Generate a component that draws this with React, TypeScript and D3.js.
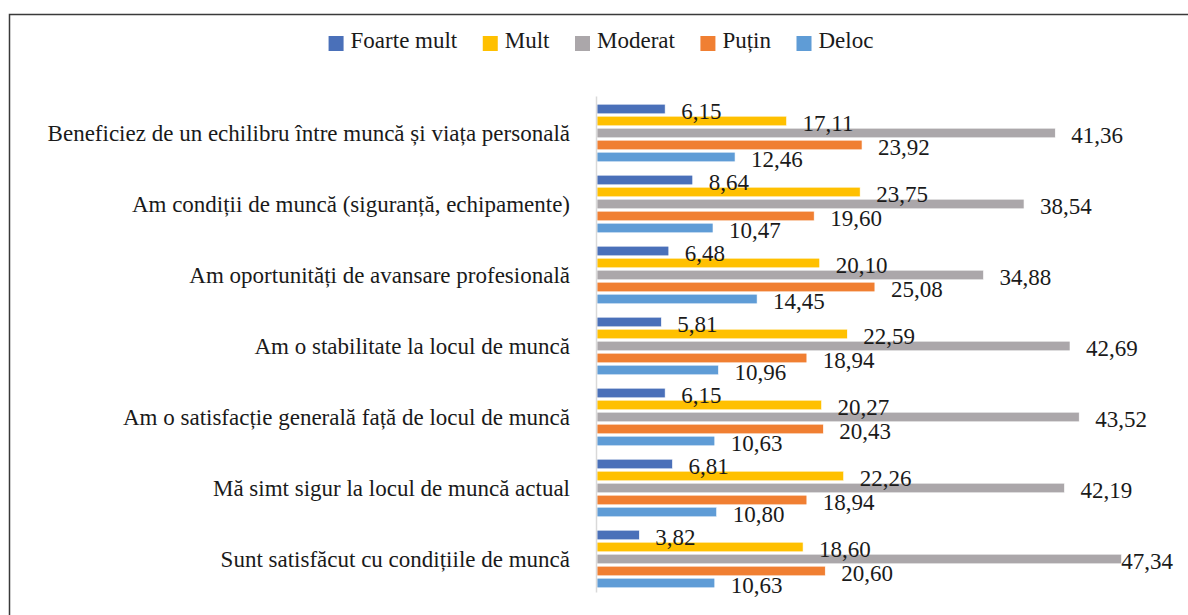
import React, { useEffect, useRef } from "react";
import * as d3 from "d3";

const categories = [
  "Beneficiez de un echilibru între muncă și viața personală",
  "Am condiții de muncă (siguranță, echipamente)",
  "Am oportunități de avansare profesională",
  "Am o stabilitate la locul de muncă",
  "Am o satisfacție generală față de locul de muncă",
  "Mă simt sigur la locul de muncă actual",
  "Sunt satisfăcut cu condițiile de muncă",
];
const seriesNames = ["Foarte mult", "Mult", "Moderat", "Puțin", "Deloc"];
const seriesColors = ["#4a70b9", "#ffc000", "#aba7aa", "#f07f32", "#5f9cd6"];

const foarteMult = [6.15, 8.64, 6.48, 5.81, 6.15, 6.81, 3.82];
const mult = [17.11, 23.75, 20.1, 22.59, 20.27, 22.26, 18.6];
const moderat = [41.36, 38.54, 34.88, 42.69, 43.52, 42.19, 47.34];
const putin = [23.92, 19.6, 25.08, 18.94, 20.43, 18.94, 20.6];
const deloc = [12.46, 10.47, 14.45, 10.96, 10.63, 10.8, 10.63];
const seriesValues = [foarteMult, mult, moderat, putin, deloc];

const FONT = "'Liberation Serif', 'Times New Roman', serif";
const FS = 23;

const Chart = () => {
  const ref = useRef<SVGSVGElement>(null);
  const width = 1188;
  const height = 615;
  const plot = { left: 597, right: 1151, top: 97.5, bottom: 594.5 };
  const labelLimit = 1173;

  useEffect(() => {
    const svg = d3.select(ref.current);
    svg.selectAll("*").remove();

    // chart border (right/bottom run off the picture)
    svg
      .append("rect")
      .attr("x", 9.5)
      .attr("y", 14.5)
      .attr("width", width + 20)
      .attr("height", height + 20)
      .attr("fill", "#fff")
      .attr("stroke", "#3a3a3a")
      .attr("stroke-width", 1.5);

    const x = d3.scaleLinear().domain([0, 50]).range([plot.left, plot.right]);
    const y = d3
      .scaleBand<number>()
      .domain(d3.range(categories.length))
      .range([plot.top, plot.bottom])
      .paddingInner(0.155)
      .paddingOuter(0.0775);
    const yInner = d3
      .scaleBand<number>()
      .domain(d3.range(seriesNames.length))
      .range([0, y.bandwidth()])
      .paddingInner(0.2)
      .paddingOuter(0.1);

    const fmt = (v: number) => d3.format(".2f")(v).replace(".", ",");

    const rows = categories.flatMap((c, ci) =>
      seriesNames.map((s, si) => ({ ci, si, v: seriesValues[si][ci] }))
    );

    // bars
    svg
      .append("g")
      .selectAll("rect")
      .data(rows)
      .join("rect")
      .attr("x", x(0))
      .attr("y", (d) => (y(d.ci) as number) + (yInner(d.si) as number))
      .attr("width", (d) => x(d.v) - x(0))
      .attr("height", yInner.bandwidth())
      .attr("fill", (d) => seriesColors[d.si])
      .attr("stroke", "#fff")
      .attr("stroke-width", 0.6);

    // vertical axis line
    svg
      .append("line")
      .attr("x1", x(0) - 0.5)
      .attr("x2", x(0) - 0.5)
      .attr("y1", plot.top - 1)
      .attr("y2", plot.bottom - 2)
      .attr("stroke", "#d9d9d9")
      .attr("stroke-width", 1.5);

    // category labels
    svg
      .append("g")
      .selectAll("text")
      .data(categories)
      .join("text")
      .attr("x", 570)
      .attr("y", (d, i) => (y(i) as number) + y.bandwidth() / 2 + 7.8)
      .attr("text-anchor", "end")
      .attr("font-family", FONT)
      .attr("font-size", FS)
      .attr("fill", "#1a1a1a")
      .text((d) => d);

    // value labels
    const labels = svg
      .append("g")
      .selectAll("text")
      .data(rows)
      .join("text")
      .attr("y", (d) => (y(d.ci) as number) + (yInner(d.si) as number) + yInner.bandwidth() / 2 + 9.8)
      .attr("font-family", FONT)
      .attr("font-size", FS)
      .attr("fill", "#1a1a1a")
      .text((d) => fmt(d.v));
    labels.each(function (d) {
      const el = this as SVGTextElement;
      const w = el.getComputedTextLength();
      let lx = x(d.v) + 16;
      if (lx + w > labelLimit) lx = labelLimit - w;
      d3.select(el).attr("x", lx);
    });

    // legend
    const legend = svg.append("g");
    const sq = 15;
    const gap = 7;
    const itemGap = 25.5;
    const items = legend
      .selectAll("g")
      .data(seriesNames)
      .join("g");
    items
      .append("rect")
      .attr("y", 36)
      .attr("width", sq)
      .attr("height", sq)
      .attr("fill", (d, i) => seriesColors[i]);
    items
      .append("text")
      .attr("x", sq + gap)
      .attr("y", 47.8)
      .attr("font-family", FONT)
      .attr("font-size", FS)
      .attr("fill", "#1a1a1a")
      .text((d) => d);
    const widths: number[] = [];
    items.each(function () {
      const t = d3.select(this).select("text").node() as SVGTextElement;
      widths.push(sq + gap + t.getComputedTextLength());
    });
    const total = d3.sum(widths) + itemGap * (widths.length - 1);
    let cx = 601 - total / 2;
    items.each(function (d, i) {
      d3.select(this).attr("transform", `translate(${cx},0)`);
      cx += widths[i] + itemGap;
    });
  });

  return (
    <svg
      ref={ref}
      width={width}
      height={height}
      style={{ position: "absolute", left: 0, top: 0, background: "#fff" }}
    ></svg>
  );
};

export default function App() {
  return <Chart />;
}
